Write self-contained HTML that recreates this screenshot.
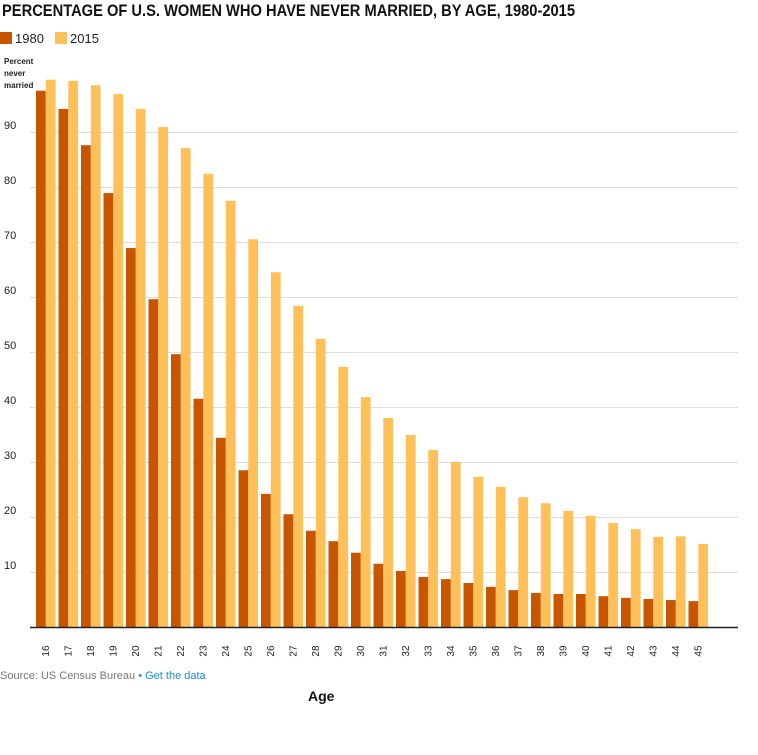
<!DOCTYPE html>
<html><head><meta charset="utf-8"><style>
body{margin:0;background:#fff;width:758px;height:750px;overflow:hidden;font-family:"Liberation Sans",sans-serif}
</style></head><body>
<svg width="758" height="750" xmlns="http://www.w3.org/2000/svg">
<text x="2" y="16" font-family="Liberation Sans Narrow, Liberation Sans, sans-serif" font-weight="bold" font-size="17" fill="#111" textLength="573" lengthAdjust="spacingAndGlyphs">PERCENTAGE OF U.S. WOMEN WHO HAVE NEVER MARRIED, BY AGE, 1980-2015</text>
<g>
<rect x="0" y="32" width="12" height="12" fill="#c85500"/>
<text x="15" y="43" font-size="13" fill="#222">1980</text>
<rect x="55" y="32" width="12" height="12" fill="#ffc05a"/>
<text x="70" y="43" font-size="13" fill="#222">2015</text>
</g>
<g font-size="8" font-weight="bold" fill="#222">
<text x="4" y="64">Percent</text><text x="4" y="76">never</text><text x="4" y="88">married</text>
</g>
<g id="grid"></g>
<g id="bars"></g>
<g id="xlabels"></g>
<line x1="30" y1="627.5" x2="738" y2="627.5" stroke="#222" stroke-width="1.5"/>
<text x="0" y="679" font-size="11" fill="#777">Source: US Census Bureau <tspan fill="#1a8fd8">•</tspan> <tspan fill="#1a8fd8">Get the data</tspan></text>
<text x="308" y="701" font-size="14" font-weight="bold" fill="#111">Age</text>
</svg>
<script>
const ages=[16,17,18,19,20,21,22,23,24,25,26,27,28,29,30,31,32,33,34,35,36,37,38,39,40,41,42,43,44,45];
const v1980=[97.5,94.2,87.6,78.9,68.9,59.6,49.6,41.5,34.4,28.5,24.2,20.5,17.5,15.6,13.5,11.5,10.2,9.1,8.7,8,7.3,6.7,6.2,6,6,5.6,5.3,5.1,4.9,4.7];
const v2015=[99.5,99.3,98.5,96.9,94.2,90.9,87.1,82.4,77.5,70.5,64.5,58.4,52.4,47.3,41.8,38,34.9,32.2,30,27.3,25.5,23.6,22.5,21.1,20.2,18.9,17.8,16.4,16.5,15.1];
const yTicks=[10,20,30,40,50,60,70,80,90];
const NS="http://www.w3.org/2000/svg";
const y=v=>627-v*5.5;
const x=i=>36+i*22.5;
const bw=9.8;
const grid=document.getElementById('grid');
yTicks.forEach(t=>{
 const l=document.createElementNS(NS,'line');
 l.setAttribute('x1',30);l.setAttribute('x2',738);l.setAttribute('y1',y(t)+0.5);l.setAttribute('y2',y(t)+0.5);
 l.setAttribute('stroke','#ddd');
 
 
 grid.appendChild(l);
 const tx=document.createElementNS(NS,'text');
 tx.setAttribute('x',4);tx.setAttribute('y',y(t)-3);tx.setAttribute('font-size','11');tx.setAttribute('fill','#222');
 tx.textContent=t;
 
 
 grid.appendChild(tx);
});
const bars=document.getElementById('bars');
const xl=document.getElementById('xlabels');
ages.forEach((a,i)=>{
 const r1=document.createElementNS(NS,'rect');
 r1.setAttribute('x',x(i));r1.setAttribute('y',y(v1980[i]));r1.setAttribute('width',bw);r1.setAttribute('height',627-y(v1980[i]));r1.setAttribute('fill','#c85500');
 
 
 bars.appendChild(r1);
 const r2=document.createElementNS(NS,'rect');
 r2.setAttribute('x',x(i)+bw);r2.setAttribute('y',y(v2015[i]));r2.setAttribute('width',bw);r2.setAttribute('height',627-y(v2015[i]));r2.setAttribute('fill','#ffc05a');
 
 
 bars.appendChild(r2);
 const t=document.createElementNS(NS,'text');
 const cx=x(i)+bw-1, cy=651;
 t.setAttribute('transform','translate('+(cx+4)+','+cy+') rotate(-90)');
 t.setAttribute('text-anchor','middle');t.setAttribute('font-size','10');t.setAttribute('fill','#222');
 t.textContent=a;
 
 
 xl.appendChild(t);
});
</script>
</body></html>
